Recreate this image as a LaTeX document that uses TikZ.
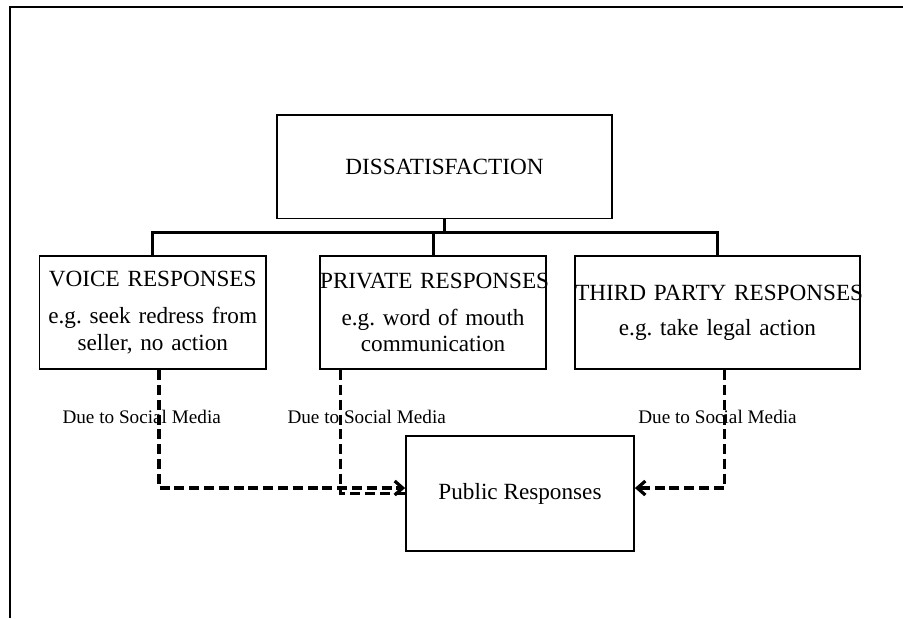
\documentclass[tikz,border=0pt]{standalone}
\usepackage{fontspec}
\setmainfont{Liberation Serif}
\usepackage{tikz}
\usetikzlibrary{arrows, positioning, arrows.meta}
\frenchspacing

\begin{document}
\begin{tikzpicture}[x=0.5pt, y=-0.5pt, node distance=26.15pt, >={Straight Barb[length=4pt, width=7pt]},
    box/.style={draw, line width=0.9pt, inner sep=0pt, align=center, font=\fontsize{11.6}{13.3}\selectfont},
    bus/.style={line width=1.5pt},
    dashline/.style={line width=1.6pt, dash pattern=on 5pt off 2.4pt},
    note/.style={inner sep=0pt, font=\fontsize{9.6}{10}\selectfont}]

    \useasboundingbox (0,0) rectangle (903,618);

    % Frame
    \draw[line width=1pt] (9.5,618) -- (9.5,6.5) -- (903,6.5);

    % Nodes
    \node (dis) at (444.5,166.75) [box, minimum width=167.5pt, minimum height=51.75pt] {DISSATISFACTION};
    \node (voice) at (152.75,312.6) [box, text width=113.25pt, minimum height=56.65pt]
        {\mbox{VOICE RESPONSES}\\[5pt] \mbox{e.g. seek redress from}\\ \mbox{seller, no action}};
    \node [right=of voice] (private) [box, text width=113pt, minimum height=56.65pt]
        {\mbox{PRIVATE RESPONSES}\\[5pt] \mbox{e.g. word of mouth}\\ \mbox{communication}};
    \node [right=13.7pt of private] (third) [box, text width=142.15pt, minimum height=56.65pt]
        {\mbox{THIRD PARTY RESPONSES}\\[4pt] \mbox{e.g. take legal action}};
    \node (public) at (520,493.5) [box, minimum width=114pt, minimum height=57.5pt] {Public Responses};

    % Edge labels
    \node (vnote) at (141.7,417) [note] {Due to Social Media};
    \node (pnote) at (366.7,417) [note] {Due to Social Media};
    \node (tnote) at (717.5,417) [note] {Due to Social Media};

    % Tree lines
    \draw[bus] (dis.south) -- ++(0,13.5) coordinate (hub);
    \draw[bus] (voice.north) |- (hub) -| (third.north);
    \draw[bus] (private.north) -- (private.north |- hub);

    % Dashed arrows
    \draw[dashline, ->] ([xshift=3.1pt]voice.south) |- ([yshift=2.75pt]public.west);
    \draw[dashline] ([xshift=-46.4pt]private.south) |- (public.west);
    \draw[dashline, ->] ([xshift=3.4pt]third.south) |- ([yshift=2.75pt]public.east);

\end{tikzpicture}
\end{document}
